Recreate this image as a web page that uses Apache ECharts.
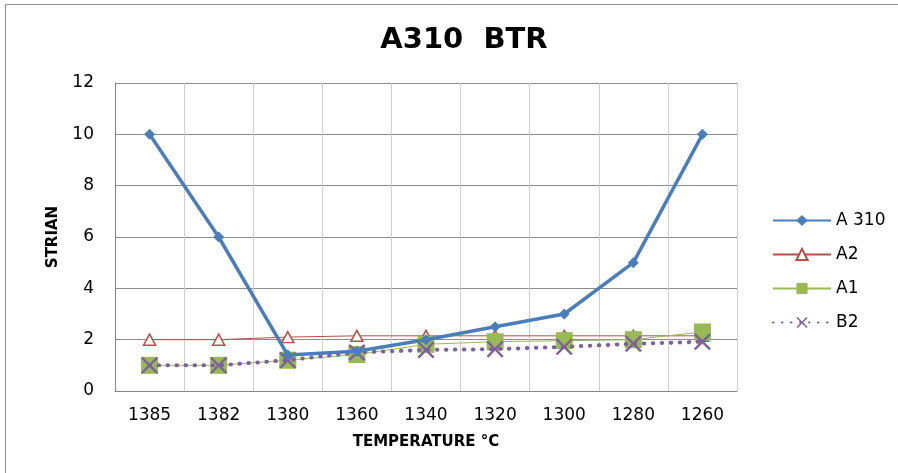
<!DOCTYPE html>
<html>
<head>
<meta charset="utf-8">
<script src="https://cdn.jsdelivr.net/npm/echarts@6/dist/echarts.min.js"></script>
<style>
  html, body { margin: 0; padding: 0; background: #fff; }
  #chart { width: 898px; height: 473px; }
</style>
</head>
<body>
<div id="chart"></div>
<script>
// Temperatures along the x axis (°C, descending)
const temperatures = ['1385', '1382', '1380', '1360', '1340', '1320', '1300', '1280', '1260'];

// Strain readings per sample
const a310 = [10, 6, 1.4, 1.55, 2.0, 2.5, 3.0, 5.0, 10];
const a2   = [2.0, 2.0, 2.1, 2.15, 2.15, 2.15, 2.15, 2.15, 2.15];
const a1   = [1.0, 1.0, 1.2, 1.42, 1.82, 1.92, 1.96, 2.0, 2.3];
const b2   = [1.0, 1.0, 1.2, 1.5, 1.6, 1.63, 1.72, 1.84, 1.92];

const yTicks = { min: 0, max: 12, interval: 2 };

const FONT = '"DejaVu Sans", Verdana, sans-serif';
const crossPath = 'path://M0,1L1,0L5,4L9,0L10,1L6,5L10,9L9,10L5,6L1,10L0,9L4,5Z';

const chart = echarts.init(document.getElementById('chart'));
chart.setOption({
  backgroundColor: '#fff',
  animation: false,
  title: {
    text: 'A310  BTR',
    left: 459, top: 21, textAlign: 'center',
    textStyle: { fontFamily: FONT, fontSize: 29, fontWeight: 'bold', color: '#000' }
  },
  graphic: [{
    type: 'rect',
    shape: { x: 5.5, y: 4.5, width: 900, height: 480 },
    style: { fill: 'none', stroke: '#8c8c8c', lineWidth: 1 },
    silent: true
  }],
  grid: { left: 115, top: 83, width: 622, height: 308 },
  legend: {
    orient: 'vertical',
    left: 767, top: 207,
    itemGap: 17, itemWidth: 58, itemHeight: 14,
    textStyle: { fontFamily: FONT, fontSize: 17, color: '#000' },
    data: ['A 310', 'A2', 'A1', 'B2']
  },
  xAxis: [{
    type: 'category',
    data: temperatures,
    boundaryGap: true,
    name: 'TEMPERATURE °C',
    nameLocation: 'middle',
    nameGap: 44,
    nameTextStyle: { fontFamily: FONT, fontSize: 15, fontWeight: 'bold', color: '#000' },
    axisLine: { lineStyle: { color: '#868686', width: 1 } },
    axisTick: { show: false },
    axisLabel: { fontFamily: FONT, fontSize: 17, color: '#000', margin: 16 },
    splitLine: { show: true, lineStyle: { color: '#8c8c8c', width: 1 } }
  }, {
    // second category axis: light lines through each category centre
    type: 'category',
    data: temperatures,
    boundaryGap: true,
    position: 'bottom',
    axisLine: { show: false },
    axisTick: { show: false },
    axisLabel: { show: false },
    splitLine: { show: true, interval: 0, lineStyle: { color: '#cfcfcf', width: 1 } }
  }],
  yAxis: {
    type: 'value',
    min: yTicks.min, max: yTicks.max, interval: yTicks.interval,
    name: 'STRIAN',
    nameLocation: 'middle',
    nameGap: 54,
    nameRotate: 90,
    nameTextStyle: { fontFamily: FONT, fontSize: 15, fontWeight: 'bold', color: '#000' },
    axisLine: { show: true, lineStyle: { color: '#868686', width: 1 } },
    axisTick: { show: false },
    axisLabel: { fontFamily: FONT, fontSize: 17, color: '#000', margin: 21 },
    splitLine: { show: true, lineStyle: { color: '#8c8c8c', width: 1 } }
  },
  series: [
    {
      name: 'A2', type: 'line', data: a2, z: 3,
      symbol: 'triangle', symbolSize: [12, 11],
      lineStyle: { color: '#be4b48', width: 1 },
      itemStyle: { color: '#fff', borderColor: '#be4b48', borderWidth: 1.5 }
    },
    {
      name: 'A1', type: 'line', data: a1, z: 4,
      symbol: 'rect', symbolSize: 17,
      lineStyle: { color: '#98b954', width: 1 },
      itemStyle: { color: '#98b954' }
    },
    {
      name: 'B2', type: 'line', data: b2, z: 5,
      symbol: crossPath, symbolSize: 17,
      lineStyle: { color: '#7d60a0', width: 4, type: [0.5, 8.5], cap: 'round' },
      itemStyle: { color: '#7d60a0' }
    },
    {
      name: 'A 310', type: 'line', data: a310, z: 6,
      symbol: 'diamond', symbolSize: 11,
      lineStyle: { color: '#4a7ebb', width: 3.5 },
      itemStyle: { color: '#4a7ebb' }
    }
  ]
});
</script>
</body>
</html>
